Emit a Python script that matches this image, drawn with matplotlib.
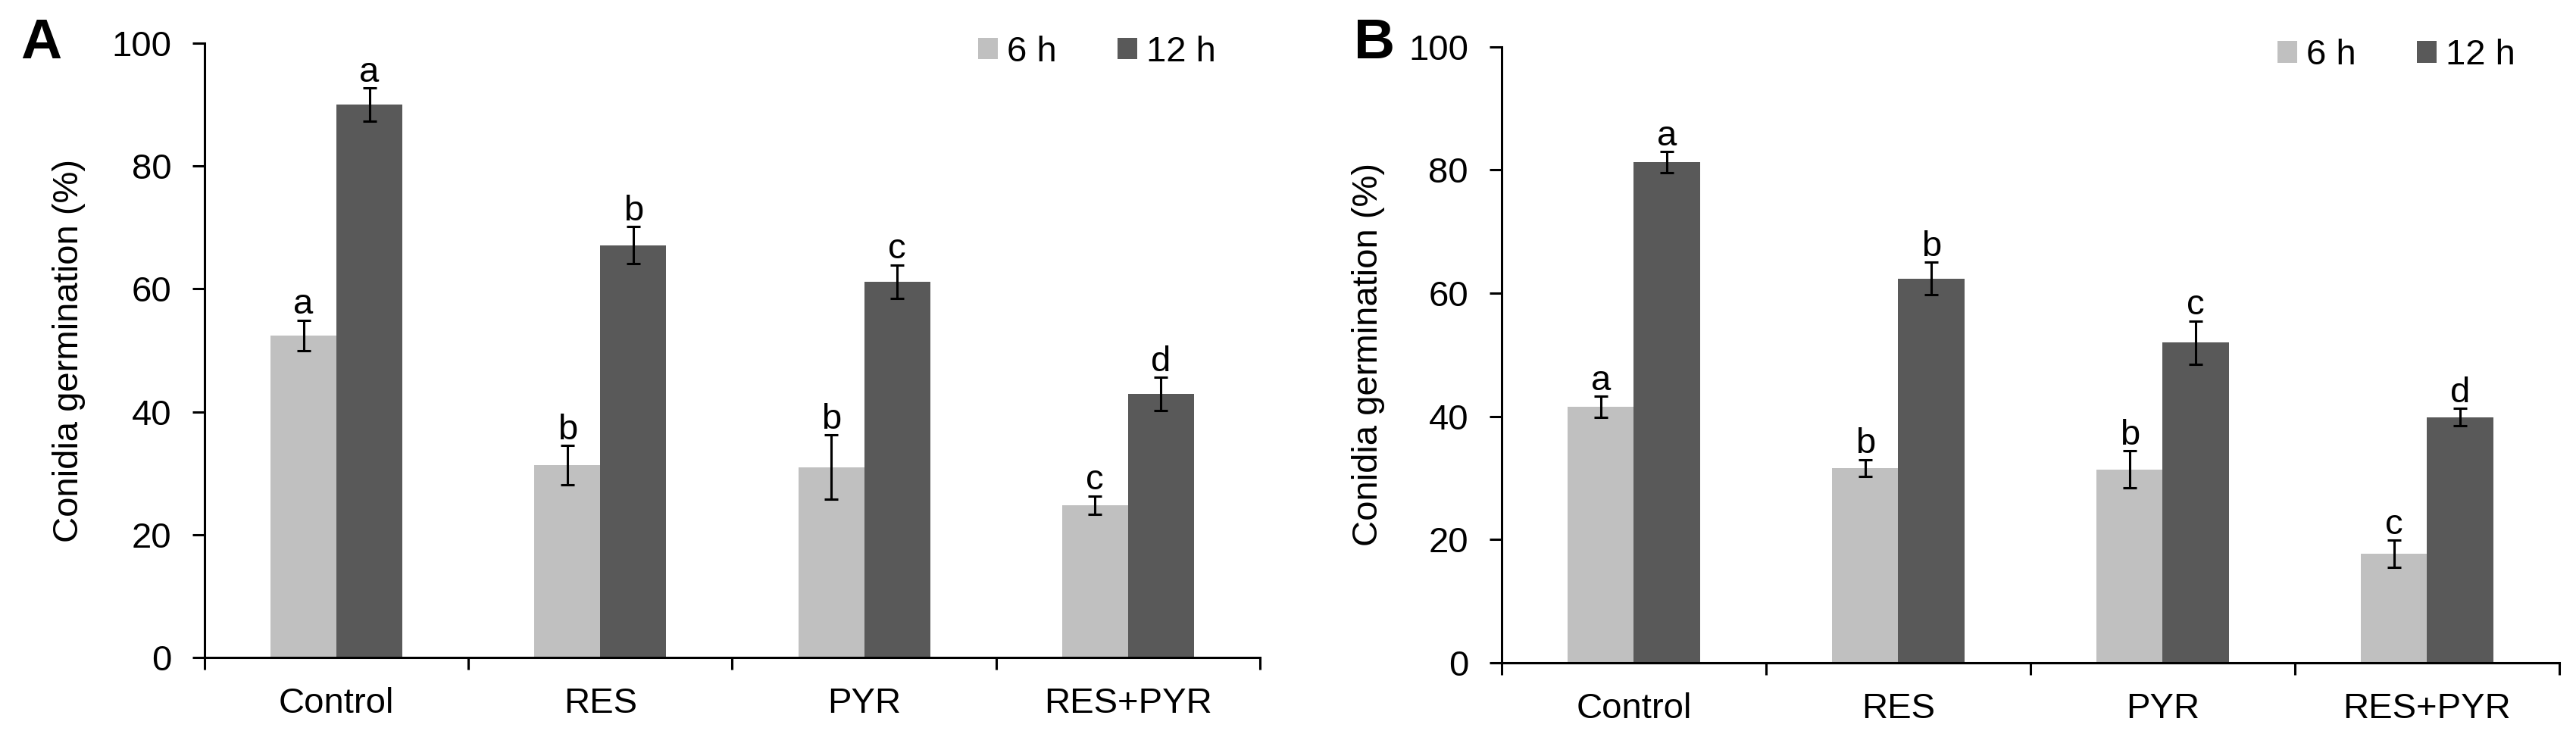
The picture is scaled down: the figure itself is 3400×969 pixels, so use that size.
import numpy as np
import matplotlib
matplotlib.use("Agg")
import matplotlib.pyplot as plt
from matplotlib.ticker import FixedLocator

plt.rcParams['font.family'] = ['Liberation Sans', 'DejaVu Sans']

categories = ["Control", "RES", "PYR", "RES+PYR"]
series_labels = ["6 h", "12 h"]

# panel A
a_6h = [52.4, 31.3, 31.0, 24.8]
a_6h_err = [2.5, 3.2, 5.2, 1.5]
a_12h = [90.0, 67.1, 61.2, 42.9]
a_12h_err = [2.7, 3.0, 2.7, 2.7]
a_6h_letters = ["a", "b", "b", "c"]
a_12h_letters = ["a", "b", "c", "d"]

# panel B
b_6h = [41.6, 31.6, 31.4, 17.7]
b_6h_err = [1.7, 1.4, 3.0, 2.2]
b_12h = [81.3, 62.4, 52.0, 39.9]
b_12h_err = [1.7, 2.6, 3.5, 1.4]
b_6h_letters = ["a", "b", "b", "c"]
b_12h_letters = ["a", "b", "c", "d"]

light = "#c0c0c0"
dark = "#595959"
fs = 34

fig = plt.figure(figsize=(34, 9.69), dpi=100)
axA = fig.add_axes([0.0794, 0.1042, 0.4097, 0.8370])
axB = fig.add_axes([0.5829, 0.0970, 0.4106, 0.8393])


def draw(ax, v6, e6, v12, e12, l6, l12, ylab_x):
    x = np.arange(len(categories))
    w = 0.25
    for xs, vals, errs, col, labs, name in [
        (x - w / 2, v6, e6, light, l6, series_labels[0]),
        (x + w / 2, v12, e12, dark, l12, series_labels[1]),
    ]:
        ax.bar(xs, vals, width=w, color=col, label=name, zorder=2)
        ax.errorbar(xs, vals, yerr=errs, fmt="none", ecolor="black",
                    elinewidth=2.2, capsize=6.5, capthick=2.2, zorder=3)
        for xi, v, e, t in zip(xs, vals, errs, labs):
            ax.annotate(t, (xi, v + e), xytext=(0, 6), textcoords="offset points",
                        ha="center", va="baseline", fontsize=fs)

    ax.set_xlim(-0.5, len(categories) - 0.5)
    ax.set_ylim(0, 100)
    ax.set_yticks([0, 20, 40, 60, 80, 100])
    ax.set_xticks(x)
    ax.set_xticklabels(categories)
    ax.xaxis.set_minor_locator(FixedLocator(np.arange(-0.5, len(categories), 1.0)))
    ax.tick_params(axis="x", which="major", length=0, pad=28, labelsize=fs)
    ax.tick_params(axis="x", which="minor", length=11.5, width=2.2, direction="out")
    ax.tick_params(axis="y", length=11.5, width=2.2, pad=20, labelsize=fs)
    for s in ["top", "right"]:
        ax.spines[s].set_visible(False)
    for s in ["left", "bottom"]:
        ax.spines[s].set_linewidth(2.2)
    ax.set_ylabel("Conidia germination (%)", fontsize=fs)
    ax.yaxis.set_label_coords(ylab_x, 0.5)
    ax.legend(loc="upper right", bbox_to_anchor=(0.975, 1.042), ncol=2, frameon=False,
              fontsize=fs, handlelength=0.55, handleheight=0.55,
              handletextpad=0.25, columnspacing=1.7, borderpad=0)


draw(axA, a_6h, a_6h_err, a_12h, a_12h_err, a_6h_letters, a_12h_letters, -0.113)
draw(axB, b_6h, b_6h_err, b_12h, b_12h_err, b_6h_letters, b_12h_letters, -0.110)

fig.text(27 / 3400, 1 - 23 / 969, "A", fontsize=54, fontweight="bold", ha="left", va="top")
fig.text(1787 / 3400, 1 - 23 / 969, "B", fontsize=54, fontweight="bold", ha="left", va="top")

fig.savefig("out.png", dpi=100)
